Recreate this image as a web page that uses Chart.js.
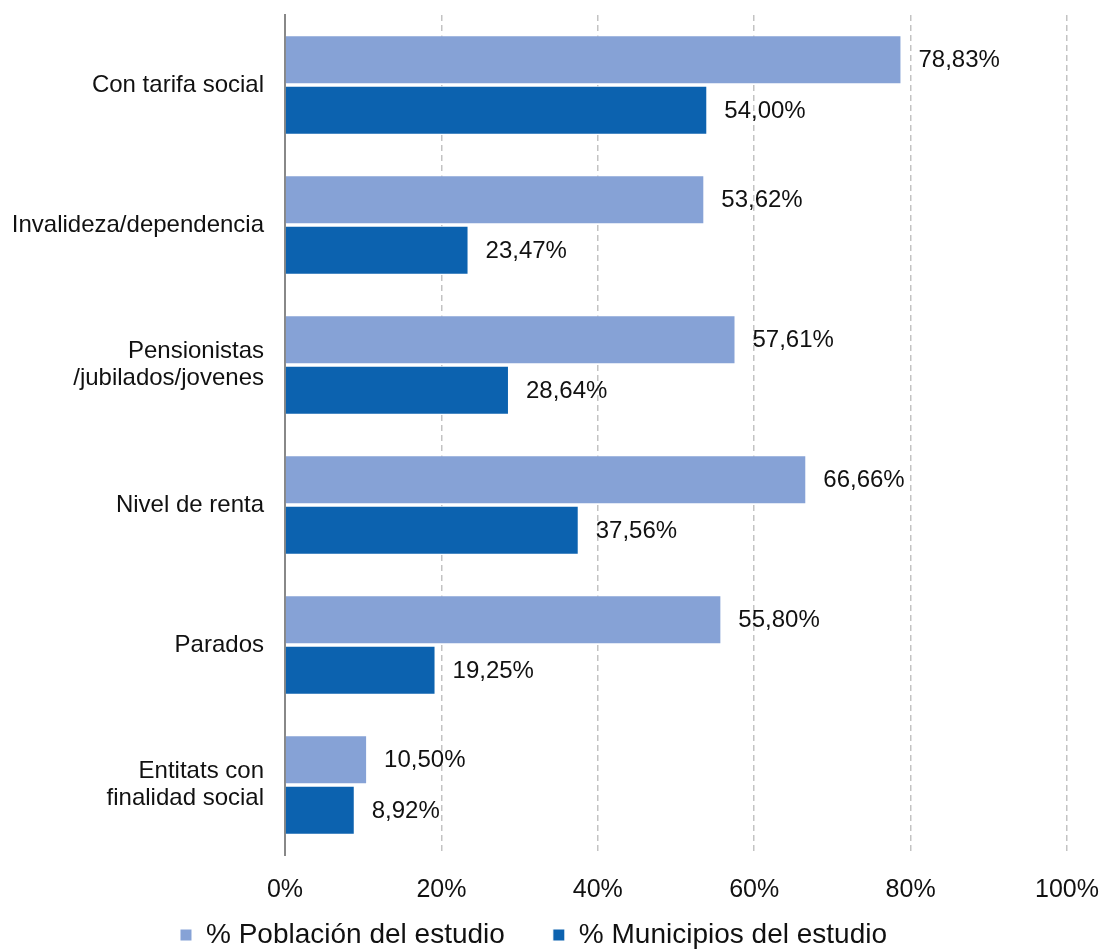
<!DOCTYPE html>
<html>
<head>
<meta charset="utf-8">
<script src="https://cdn.jsdelivr.net/npm/chart.js@4/dist/chart.umd.min.js"></script>
<style>
  html, body { margin: 0; padding: 0; background: #fff; }
  #wrap { width: 1105px; height: 949px; }
</style>
</head>
<body>
<div id="wrap"><canvas id="chart"></canvas></div>
<script>
// Data
const categories = [
    'Con tarifa social',
    'Invalideza/dependencia',
    ['Pensionistas', '/jubilados/jovenes'],
    'Nivel de renta',
    'Parados',
    ['Entitats con', 'finalidad social']
];
const seriesNames = ['% Población del estudio', '% Municipios del estudio'];
const poblacion = [78.83, 53.62, 57.61, 66.66, 55.80, 10.50];
const municipios = [54.00, 23.47, 28.64, 37.56, 19.25, 8.92];
const xTicks = [0, 20, 40, 60, 80, 100];

const FONT = 'Arial, "Liberation Sans", sans-serif';

function fmt(v) {
    return v.toFixed(2).replace('.', ',') + '%';
}

// Draw value labels to the right of each bar
const valueLabels = {
    id: 'valueLabels',
    afterDatasetsDraw(chart) {
        const ctx = chart.ctx;
        ctx.save();
        ctx.font = '24px ' + FONT;
        ctx.fillStyle = '#111';
        ctx.textBaseline = 'middle';
        ctx.textAlign = 'left';
        chart.data.datasets.forEach((ds, i) => {
            chart.getDatasetMeta(i).data.forEach((bar, j) => {
                ctx.fillText(fmt(ds.data[j]), bar.x + 17, bar.y + 1);
            });
        });
        ctx.restore();
    }
};

// Pull the legend up a bit so it sits closer to the tick labels
const legendShift = {
    id: 'legendShift',
    afterLayout(chart) {
        const lg = chart.legend;
        if (!lg) return;
        const dy = 27;
        lg.top -= dy;
        lg.bottom -= dy;
    }
};

const ctx = document.getElementById('chart');

new Chart(ctx, {
    type: 'bar',
    data: {
        labels: categories,
        datasets: [{
            label: seriesNames[0],
            data: poblacion,
            backgroundColor: '#86a2d6',
            borderColor: '#ffffff',
            borderWidth: 1,
            categoryPercentage: 0.72,
            barPercentage: 0.97
        }, {
            label: seriesNames[1],
            data: municipios,
            backgroundColor: '#0c62af',
            borderColor: '#ffffff',
            borderWidth: 1,
            categoryPercentage: 0.72,
            barPercentage: 0.97
        }]
    },
    options: {
        indexAxis: 'y',
        responsive: true,
        maintainAspectRatio: false,
        animation: false,
        layout: {
            padding: { top: 15, right: 38, left: 0, bottom: -37 }
        },
        scales: {
            x: {
                min: 0,
                max: 100,
                afterBuildTicks: scale => {
                    scale.ticks = xTicks.map(v => ({ value: v }));
                },
                afterFit: scale => {
                    scale.height = 45;
                    scale.paddingLeft = 0;
                    scale.paddingRight = 0;
                },
                ticks: {
                    padding: 20,
                    color: '#111',
                    font: { family: FONT, size: 25 },
                    callback: v => v + '%'
                },
                grid: {
                    color: ctx => ctx.tick && ctx.tick.value === 0 ? 'rgba(0,0,0,0)' : '#c3c3c3',
                    lineWidth: 1.5,
                    drawTicks: false
                },
                border: { display: false, dash: [6, 4] }
            },
            y: {
                afterFit: scale => {
                    scale.width = 285;
                    scale.paddingTop = 0;
                    scale.paddingBottom = 0;
                },
                ticks: {
                    padding: 21,
                    color: '#111',
                    font: { family: FONT, size: 24, lineHeight: 1.15 }
                },
                grid: { display: false, drawTicks: false },
                border: { display: true, color: '#888', width: 2 }
            }
        },
        plugins: {
            legend: {
                position: 'bottom',
                labels: {
                    boxWidth: 12,
                    boxHeight: 12,
                    padding: 48,
                    color: '#111',
                    font: { family: FONT, size: 28 }
                }
            },
            tooltip: { enabled: false }
        }
    },
    plugins: [valueLabels, legendShift]
});
</script>
</body>
</html>
